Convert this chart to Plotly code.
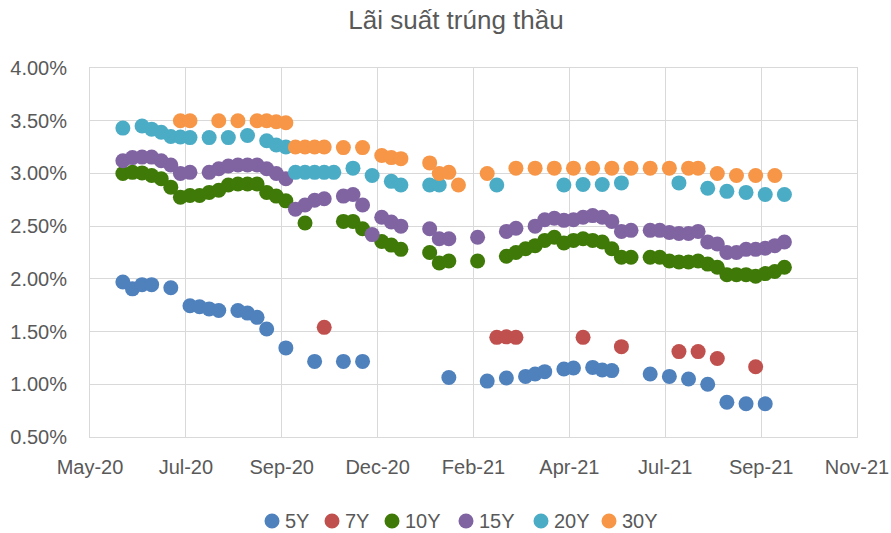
import plotly.graph_objects as go

TITLE = "Lãi suất trúng thầu"

# x-axis tick positions and labels (Excel date axis, ~70-day major unit)
tick_dates = ["2020-05-10", "2020-07-19", "2020-09-27", "2020-12-06", "2021-02-14",
              "2021-04-25", "2021-07-04", "2021-09-12", "2021-11-21"]
tick_labels = ["May-20", "Jul-20", "Sep-20", "Dec-20", "Feb-21",
               "Apr-21", "Jul-21", "Sep-21", "Nov-21"]

# ---- 5Y ----
d5 = ["2020-06-03", "2020-06-10", "2020-06-17", "2020-06-24", "2020-07-08", "2020-07-22",
      "2020-07-29", "2020-08-05", "2020-08-12", "2020-08-26", "2020-09-02", "2020-09-09",
      "2020-09-16", "2020-09-30", "2020-10-21", "2020-11-11", "2020-11-25", "2021-01-27",
      "2021-02-24", "2021-03-10", "2021-03-24", "2021-03-31", "2021-04-07", "2021-04-21",
      "2021-04-28", "2021-05-12", "2021-05-19", "2021-05-26", "2021-06-23", "2021-07-07",
      "2021-07-21", "2021-08-04", "2021-08-18", "2021-09-01", "2021-09-15"]
v5 = [1.97, 1.905, 1.945, 1.945, 1.915, 1.745,
      1.735, 1.715, 1.70, 1.70, 1.675, 1.635,
      1.525, 1.345, 1.217, 1.217, 1.217, 1.065,
      1.03, 1.06, 1.075, 1.098, 1.12, 1.145,
      1.155, 1.16, 1.135, 1.13, 1.098, 1.075,
      1.05, 1.00, 0.83, 0.815, 0.815]

# ---- 7Y ----
d7 = ["2020-10-28", "2021-03-03", "2021-03-10", "2021-03-17", "2021-05-05",
      "2021-06-02", "2021-07-14", "2021-07-28", "2021-08-11", "2021-09-08"]
v7 = [1.54, 1.445, 1.45, 1.445, 1.445, 1.357, 1.31, 1.31, 1.245, 1.167]

# ---- 10Y ----
d10 = ["2020-06-03", "2020-06-10", "2020-06-17", "2020-06-24", "2020-07-01", "2020-07-08",
       "2020-07-15", "2020-07-22", "2020-07-29", "2020-08-05", "2020-08-12", "2020-08-19",
       "2020-08-26", "2020-09-02", "2020-09-09", "2020-09-16", "2020-09-23", "2020-09-30",
       "2020-10-14", "2020-11-11", "2020-11-18", "2020-11-25", "2020-12-09", "2020-12-16",
       "2020-12-23", "2021-01-13", "2021-01-20", "2021-01-27", "2021-02-17", "2021-03-10",
       "2021-03-17", "2021-03-24", "2021-03-31", "2021-04-07", "2021-04-14", "2021-04-21",
       "2021-04-28", "2021-05-05", "2021-05-12", "2021-05-19", "2021-05-26", "2021-06-02",
       "2021-06-09", "2021-06-23", "2021-06-30", "2021-07-07", "2021-07-14", "2021-07-21",
       "2021-07-28", "2021-08-04", "2021-08-11", "2021-08-18", "2021-08-25", "2021-09-01",
       "2021-09-08", "2021-09-15", "2021-09-22", "2021-09-29"]
v10 = [3.00, 3.01, 3.005, 2.98, 2.95, 2.87,
       2.775, 2.79, 2.79, 2.82, 2.84, 2.89,
       2.90, 2.90, 2.90, 2.82, 2.785, 2.74,
       2.53, 2.545, 2.545, 2.475, 2.355, 2.32,
       2.28, 2.25, 2.15, 2.17, 2.17, 2.215,
       2.25, 2.285, 2.315, 2.365, 2.395, 2.34,
       2.365, 2.38, 2.365, 2.35, 2.285, 2.205,
       2.205, 2.205, 2.205, 2.17, 2.16, 2.16,
       2.17, 2.14, 2.11, 2.04, 2.04, 2.04,
       2.025, 2.05, 2.07, 2.11]

# ---- 15Y ----
d15 = ["2020-06-03", "2020-06-10", "2020-06-17", "2020-06-24", "2020-07-01", "2020-07-08",
       "2020-07-15", "2020-07-22", "2020-08-05", "2020-08-12", "2020-08-19", "2020-08-26",
       "2020-09-02", "2020-09-09", "2020-09-16", "2020-09-23", "2020-09-30", "2020-10-07",
       "2020-10-14", "2020-10-21", "2020-10-28", "2020-11-11", "2020-11-18", "2020-11-25",
       "2020-12-02", "2020-12-09", "2020-12-16", "2020-12-23", "2021-01-13", "2021-01-20",
       "2021-01-27", "2021-02-17", "2021-03-10", "2021-03-17", "2021-03-31", "2021-04-07",
       "2021-04-14", "2021-04-21", "2021-04-28", "2021-05-05", "2021-05-12", "2021-05-19",
       "2021-05-26", "2021-06-02", "2021-06-09", "2021-06-23", "2021-06-30", "2021-07-07",
       "2021-07-14", "2021-07-21", "2021-07-28", "2021-08-04", "2021-08-11", "2021-08-18",
       "2021-08-25", "2021-09-01", "2021-09-08", "2021-09-15", "2021-09-22", "2021-09-29"]
v15 = [3.12, 3.15, 3.155, 3.155, 3.12, 3.08,
       3.00, 3.01, 3.01, 3.045, 3.07, 3.08,
       3.08, 3.08, 3.045, 3.00, 2.95, 2.66,
       2.70, 2.745, 2.76, 2.785, 2.80, 2.70,
       2.42, 2.585, 2.54, 2.50, 2.475, 2.38,
       2.38, 2.395, 2.45, 2.48, 2.50, 2.56,
       2.575, 2.555, 2.56, 2.585, 2.60, 2.585,
       2.545, 2.45, 2.46, 2.46, 2.46, 2.44,
       2.43, 2.43, 2.45, 2.35, 2.33, 2.25,
       2.25, 2.28, 2.28, 2.29, 2.315, 2.35]

# ---- 20Y ----
d20 = ["2020-06-03", "2020-06-17", "2020-06-24", "2020-07-01", "2020-07-08", "2020-07-15",
       "2020-07-22", "2020-08-05", "2020-08-19", "2020-09-02", "2020-09-16", "2020-09-23",
       "2020-09-30", "2020-10-07", "2020-10-14", "2020-10-21", "2020-10-28", "2020-11-04",
       "2020-11-18", "2020-12-02", "2020-12-16", "2020-12-23", "2021-01-13", "2021-01-20",
       "2021-03-03", "2021-04-21", "2021-05-05", "2021-05-19", "2021-06-02", "2021-07-14",
       "2021-08-04", "2021-08-18", "2021-09-01", "2021-09-15", "2021-09-29"]
v20 = [3.43, 3.45, 3.42, 3.39, 3.35, 3.345,
       3.34, 3.34, 3.34, 3.36, 3.31, 3.27,
       3.25, 3.01, 3.01, 3.01, 3.01, 3.01,
       3.05, 2.98, 2.925, 2.89, 2.89, 2.89,
       2.89, 2.89, 2.895, 2.895, 2.91, 2.91,
       2.86, 2.83, 2.82, 2.80, 2.80]

# ---- 30Y ----
d30 = ["2020-07-15", "2020-07-22", "2020-08-12", "2020-08-26", "2020-09-09", "2020-09-16",
       "2020-09-23", "2020-09-30", "2020-10-07", "2020-10-14", "2020-10-21", "2020-10-28",
       "2020-11-11", "2020-11-25", "2020-12-09", "2020-12-16", "2020-12-23", "2021-01-13",
       "2021-01-20", "2021-01-27", "2021-02-03", "2021-02-24", "2021-03-17", "2021-03-31",
       "2021-04-14", "2021-04-28", "2021-05-12", "2021-05-26", "2021-06-09", "2021-06-23",
       "2021-07-07", "2021-07-21", "2021-07-28", "2021-08-11", "2021-08-25", "2021-09-08",
       "2021-09-22"]
v30 = [3.50, 3.50, 3.50, 3.50, 3.50, 3.50,
       3.49, 3.48, 3.25, 3.25, 3.25, 3.25,
       3.245, 3.245, 3.17, 3.15, 3.14, 3.10,
       3.00, 3.01, 2.89, 3.00, 3.05, 3.05,
       3.05, 3.05, 3.05, 3.05, 3.05, 3.05,
       3.05, 3.05, 3.05, 3.00, 2.98, 2.98,
       2.98]

series_names = ["5Y", "7Y", "10Y", "15Y", "20Y", "30Y"]
series_dates = [d5, d7, d10, d15, d20, d30]
series_values = [v5, v7, v10, v15, v20, v30]
series_colors = ["#4F81BD", "#C0504D", "#3F7A08", "#8064A2", "#4BACC6", "#F79646"]

FONT = "Liberation Sans, Arial, sans-serif"
TXT = "#595959"
GRID = "#D9D9D9"

# plot-area geometry in pixels
W, H = 891, 533
ML, MR, MT, MB = 90, 34, 68, 96
PW, PH = W - ML - MR, H - MT - MB

# legend layout (pixel centre of each legend marker, shared row centre)
legend_marker_px = [272, 332, 392, 466, 541, 609]
legend_row_py = 521
legend_text_gap = 11
legend_marker_r = 7.5

fig = go.Figure()
for name, d, v, c in zip(series_names, series_dates, series_values, series_colors):
    fig.add_trace(go.Scatter(
        x=d, y=v, name=name, mode="markers",
        marker=dict(color=c, size=15, line=dict(width=0)),
    ))

# Legend drawn as shapes + text annotations (Excel-style compact spacing)
shapes, annotations = [], []
ly = (MT + PH - legend_row_py) / PH
for name, c, px in zip(series_names, series_colors, legend_marker_px):
    shapes.append(dict(
        type="circle", xref="paper", yref="paper",
        xsizemode="pixel", ysizemode="pixel",
        xanchor=(px - ML) / PW, yanchor=ly,
        x0=-legend_marker_r, x1=legend_marker_r,
        y0=-legend_marker_r, y1=legend_marker_r,
        fillcolor=c, line=dict(width=0),
    ))
    annotations.append(dict(
        text=name, xref="paper", yref="paper",
        x=(px + legend_text_gap - ML) / PW, y=ly,
        xanchor="left", yanchor="middle", showarrow=False,
        font=dict(family=FONT, size=20, color=TXT),
    ))

fig.update_layout(
    width=W, height=H,
    paper_bgcolor="white", plot_bgcolor="white",
    margin=dict(l=ML, r=MR, t=MT, b=MB),
    font=dict(family=FONT, color=TXT, size=20),
    title=dict(text=TITLE, x=456 / W, xanchor="center", xref="container",
               y=1 - 20 / H, yanchor="middle",
               font=dict(family=FONT, size=26, color=TXT)),
    showlegend=False,
    shapes=shapes,
    annotations=annotations,
)

fig.update_xaxes(
    type="date",
    range=[tick_dates[0], tick_dates[-1]],
    tickmode="array", tickvals=tick_dates, ticktext=tick_labels,
    showgrid=True, gridcolor=GRID, gridwidth=1,
    showline=True, linecolor=GRID, linewidth=1, mirror=True,
    ticks="", ticklabelstandoff=12, automargin=False,
    tickfont=dict(family=FONT, size=20, color=TXT),
    zeroline=False,
)
fig.update_yaxes(
    range=[0.5, 4.0], dtick=0.5, tick0=0.5,
    tickformat=".2f", ticksuffix="%",
    showgrid=True, gridcolor=GRID, gridwidth=1,
    showline=True, linecolor=GRID, linewidth=1, mirror=True,
    ticks="", ticklabelstandoff=18, automargin=False,
    tickfont=dict(family=FONT, size=20, color=TXT),
    zeroline=False,
)

fig.write_html(
    "out.html",
    config={"displayModeBar": False},
    post_script="document.body.style.margin='0';document.body.style.overflow='hidden';",
)
